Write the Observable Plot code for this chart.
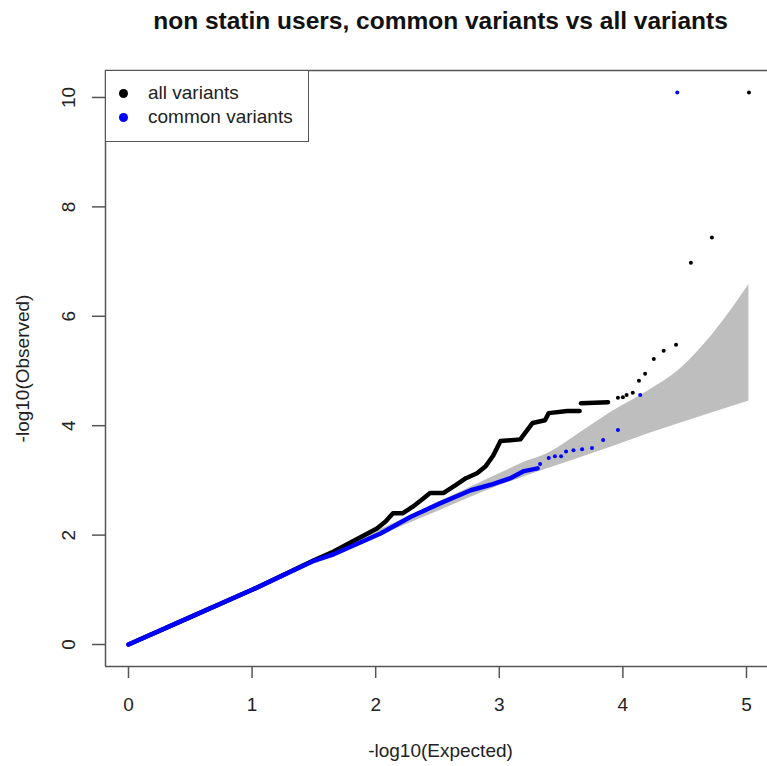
<!DOCTYPE html>
<html>
<head>
<meta charset="utf-8">
<script src="https://cdn.jsdelivr.net/npm/d3@7"></script>
<script src="https://cdn.jsdelivr.net/npm/@observablehq/plot@0.6"></script>
<style>
  body { margin: 0; background: #fff; }
  #wrap { position: relative; width: 767px; height: 766px; font-family: "Liberation Sans", Arial, Helvetica, sans-serif; }
  #legend {
    position: absolute; left: 105px; top: 70px; width: 204px; height: 72px;
    border: 1.5px solid #555; background: #fff; box-sizing: border-box;
    font-size: 19px; color: #222;
  }
  #legend .row { position: absolute; left: 0; display: flex; align-items: center; }
  #legend .sw { width: 9px; height: 9px; border-radius: 50%; margin-left: 13px; margin-right: 20px; }
</style>
</head>
<body>
<div id="wrap"></div>
<script>
// QQ plot: -log10 expected vs observed p-values, with 95% confidence band
const chartTitle = "non statin users, common variants vs all variants";
const xLabel = "-log10(Expected)";
const yLabel = "-log10(Observed)";
const xTicks = [0, 1, 2, 3, 4, 5];
const yTicks = [0, 2, 4, 6, 8, 10];
const xDomain = [-0.186, 5.17];
const yDomain = [-0.402, 10.493];

const seriesNames = ["all variants", "common variants"];
const seriesColors = ["#000000", "#0000ff"];

// confidence band: expected, lower, upper
const bandExpected = [0, 1.0, 1.5, 2.0, 2.5, 3.0, 3.2, 3.4, 3.66, 3.92, 4.2, 4.47, 4.73, 5.02];
const bandLower    = [0, 0.98, 1.47, 1.95, 2.43, 2.90, 3.06, 3.22, 3.42, 3.62, 3.85, 4.05, 4.24, 4.45];
const bandUpper    = [0, 1.02, 1.53, 2.06, 2.59, 3.12, 3.33, 3.50, 3.88, 4.27, 4.63, 5.05, 5.68, 6.58];

// all variants: densely packed runs (drawn as thick paths) and sparse tail points
const allRunA = [[0,0],[0.5,0.5],[1.0,1.0],[1.5,1.54],[1.66,1.70],[1.8,1.87],[1.9,1.99],[2.01,2.12],[2.08,2.25],
  [2.14,2.40],[2.22,2.40],[2.30,2.52],[2.38,2.66],[2.44,2.77],[2.55,2.77],[2.65,2.92],[2.73,3.04],[2.82,3.13],
  [2.89,3.26],[2.95,3.45],[3.01,3.72],[3.17,3.75],[3.27,4.05],[3.37,4.10],[3.40,4.23],[3.55,4.27],[3.65,4.27]];
const allRunB = [[3.66,4.41],[3.88,4.43]];
const allTail = [[3.96,4.51],[4.00,4.52],[4.03,4.56],[4.08,4.60],[4.13,4.82],[4.18,4.95],[4.25,5.22],
  [4.33,5.37],[4.43,5.48],[4.55,6.98],[4.72,7.44],[5.02,10.09]];

// common variants
const commonRun = [[0,0],[0.5,0.5],[1.0,1.0],[1.5,1.53],[1.66,1.65],[2.04,2.03],[2.28,2.33],[2.52,2.58],
  [2.77,2.82],[2.93,2.92],[3.09,3.04],[3.20,3.17],[3.31,3.22]];
const commonTail = [[3.33,3.30],[3.40,3.41],[3.45,3.44],[3.50,3.44],[3.54,3.53],[3.60,3.55],[3.67,3.57],
  [3.75,3.59],[3.84,3.74],[3.96,3.92],[4.14,4.56],[4.44,10.09]];

const band = bandExpected.map((e, i) => ({e, lo: bandLower[i], hi: bandUpper[i]}));
const runs = [
  ...allRunA.map(([e, o]) => ({e, o, run: "a1"})),
  ...allRunB.map(([e, o]) => ({e, o, run: "a2"}))
];
const lineColor = "#555";
const textColor = "#222";

const chart = Plot.plot({
  width: 767,
  height: 766,
  marginLeft: 105,
  marginRight: 0,
  marginTop: 70,
  marginBottom: 100,
  x: {domain: xDomain, axis: null},
  y: {domain: yDomain, axis: null},
  style: {fontFamily: '"Liberation Sans", Arial, Helvetica, sans-serif', fontSize: "19px", background: "#fff"},
  marks: [
    Plot.areaY(band, {x: "e", y1: "lo", y2: "hi", fill: "#bebebe", curve: "monotone-x"}),
    Plot.line(runs, {x: "e", y: "o", z: "run", stroke: seriesColors[0], strokeWidth: 4.5, strokeLinecap: "round", strokeLinejoin: "round"}),
    Plot.dot(allTail, {x: d => d[0], y: d => d[1], r: 2, fill: seriesColors[0], stroke: null}),
    Plot.line(commonRun, {x: d => d[0], y: d => d[1], stroke: seriesColors[1], strokeWidth: 4.5, strokeLinecap: "round", strokeLinejoin: "round"}),
    Plot.dot(commonTail, {x: d => d[0], y: d => d[1], r: 2, fill: seriesColors[1], stroke: null}),
    // box on left, top, bottom
    Plot.ruleX([xDomain[0]], {stroke: lineColor, strokeWidth: 1.5}),
    Plot.ruleY([yDomain[0], yDomain[1]], {stroke: lineColor, strokeWidth: 1.5}),
    // ticks
    Plot.axisX({ticks: xTicks, tickSize: 12, tickFormat: () => "", label: null, stroke: lineColor, strokeWidth: 1.5}),
    Plot.axisY({ticks: yTicks, tickSize: 13, tickFormat: () => "", label: null, stroke: lineColor, strokeWidth: 1.5}),
    // tick labels
    Plot.text(xTicks, {x: d => d, text: d => String(d), frameAnchor: "bottom", dy: 38,
      lineAnchor: "middle", textAnchor: "middle", fill: textColor, fontSize: 19}),
    Plot.text(yTicks, {y: d => d, text: d => String(d), frameAnchor: "left", dx: -37, rotate: -90,
      lineAnchor: "middle", textAnchor: "middle", fill: textColor, fontSize: 19}),
    // axis titles and chart title
    Plot.text([xLabel], {text: d => d, frameAnchor: "bottom", dy: 84, dx: 4,
      lineAnchor: "middle", textAnchor: "middle", fill: textColor, fontSize: 19}),
    Plot.text([yLabel], {text: d => d, frameAnchor: "left", dx: -83, rotate: -90,
      lineAnchor: "middle", textAnchor: "middle", fill: textColor, fontSize: 19}),
    Plot.text([chartTitle], {text: d => d, frameAnchor: "top", dy: -49, dx: 4,
      lineAnchor: "middle", textAnchor: "middle", fill: "#111", fontSize: 24.5, fontWeight: "bold"})
  ]
});

const wrap = document.getElementById("wrap");
wrap.appendChild(chart);

// legend
const legend = document.createElement("div");
legend.id = "legend";
seriesNames.forEach((name, i) => {
  const row = document.createElement("div");
  row.className = "row";
  row.style.top = (i === 0 ? 11 : 35) + "px";
  const sw = document.createElement("span");
  sw.className = "sw";
  sw.style.background = seriesColors[i];
  const label = document.createElement("span");
  label.textContent = name;
  row.appendChild(sw);
  row.appendChild(label);
  legend.appendChild(row);
});
wrap.appendChild(legend);
</script>
</body>
</html>
